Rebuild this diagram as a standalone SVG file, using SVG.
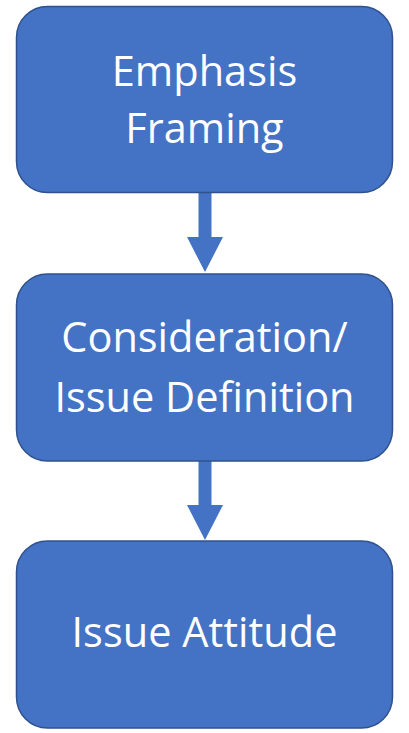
<svg xmlns="http://www.w3.org/2000/svg" width="409" height="733" viewBox="0 0 409 733">
<style>
.box{fill:#4472C4;stroke:#2F528F;stroke-width:1.5}
.lbl{fill:#FFFFFF;font-family:"Open Sans","Liberation Sans",sans-serif;font-size:41.5px;text-anchor:middle}
.arr{fill:#4472C4}
</style>
<rect width="409" height="733" fill="#FFFFFF"/>
<g id="connectors">
<polygon class="arr" points="198.5,193 211.5,193 211.5,237 223,237 205,272 187,237 198.5,237"/>
<polygon class="arr" points="198.5,461 211.5,461 211.5,505 223,505 205,540 187,505 198.5,505"/>
</g>
<g id="node1">
<rect class="box" x="16.5" y="6.5" width="376" height="186" rx="31" ry="31"/>
<text class="lbl" x="204.5" y="86">Emphasis</text>
<text class="lbl" x="204.5" y="143">Framing</text>
</g>
<g id="node2">
<rect class="box" x="16.5" y="274" width="376" height="187" rx="31" ry="31"/>
<text class="lbl" x="204.5" y="352">Consideration/</text>
<text class="lbl" x="204.5" y="412">Issue Definition</text>
</g>
<g id="node3">
<rect class="box" x="16.5" y="541" width="376" height="187" rx="31" ry="31"/>
<text class="lbl" x="204.5" y="647">Issue Attitude</text>
</g>
</svg>
